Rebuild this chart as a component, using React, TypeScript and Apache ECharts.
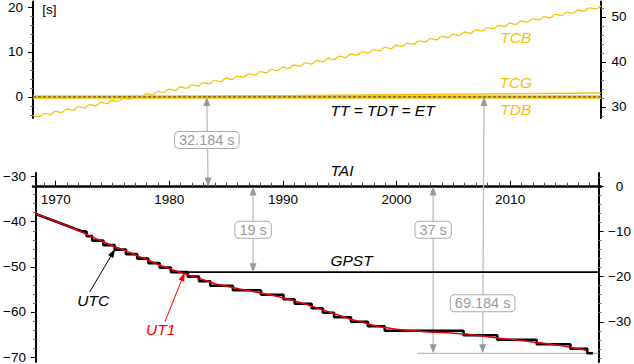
import React, { useEffect, useRef } from "react";
import * as echarts from "echarts";

// ---------------- data ----------------
const YEAR_MIN = 1968;
const YEAR_MAX = 2018;
const TT_MINUS_TAI = 32.184; // s
const GPS_TAI_OFFSET = 19; // s
const LEAP_2017 = 37; // TAI - UTC in 2017

// vertical ranges of the two panels (seconds relative to TT)
const UPPER_MIN = -4.68;
const UPPER_MAX = 21.2;
const LOWER_MIN = -71.09;
const LOWER_MAX = -29.19;

// tick values
const yearTicks = [
  1969, 1970, 1971, 1972, 1973, 1974, 1975, 1976, 1977, 1978, 1979, 1980, 1981, 1982, 1983, 1984,
  1985, 1986, 1987, 1988, 1989, 1990, 1991, 1992, 1993, 1994, 1995, 1996, 1997, 1998, 1999, 2000,
  2001, 2002, 2003, 2004, 2005, 2006, 2007, 2008, 2009, 2010, 2011, 2012, 2013, 2014, 2015, 2016, 2017,
];
const decadeTicks = [1970, 1980, 1990, 2000, 2010];
const upperMinorTicks = [-4, -2, 0, 2, 4, 6, 8, 10, 12, 14, 16, 18, 20];
const upperMajorTicks = [0, 10, 20];
const upperRightMinorTicks = [28, 30, 32, 34, 36, 38, 40, 42, 44, 46, 48, 50, 52];
const upperRightMajorTicks = [30, 40, 50];
const lowerMinorTicks = [-70, -68, -66, -64, -62, -60, -58, -56, -54, -52, -50, -48, -46, -44, -42, -40, -38, -36, -34, -32, -30];
const lowerMajorTicks = [-70, -60, -50, -40, -30];
const lowerRightMinorTicks = [-38, -36, -34, -32, -30, -28, -26, -24, -22, -20, -18, -16, -14, -12, -10, -8, -6, -4, -2, 0, 2];
const lowerRightMajorTicks = [-30, -20, -10, 0];

// TCB - TT, sampled every half year from 1968.0
const tcbStart = 1968;
const tcbStep = 0.5;
const tcbValues = [
  -4.15, -4.41, -3.66, -3.92, -3.18, -3.43, -2.69, -2.94, -2.2, -2.45, -1.71, -1.96, -1.22, -1.47, -0.73, -0.98,
  -0.24, -0.49, 0.25, 0.0, 0.74, 0.48, 1.23, 0.97, 1.72, 1.46, 2.21, 1.95, 2.7, 2.44, 3.19, 2.93,
  3.68, 3.42, 4.16, 3.91, 4.65, 4.4, 5.14, 4.89, 5.63, 5.38, 6.12, 5.87, 6.61, 6.36, 7.1, 6.85,
  7.59, 7.33, 8.08, 7.82, 8.57, 8.31, 9.06, 8.8, 9.55, 9.29, 10.04, 9.78, 10.53, 10.27, 11.01, 10.76,
  11.5, 11.25, 11.99, 11.74, 12.48, 12.23, 12.97, 12.72, 13.46, 13.21, 13.95, 13.7, 14.44, 14.18, 14.93, 14.67,
  15.42, 15.16, 15.91, 15.65, 16.4, 16.14, 16.89, 16.63, 17.38, 17.12, 17.86, 17.61, 18.35, 18.1, 18.84, 18.59,
  19.33, 19.08, 19.82, 19.57, 20.31,
];
// TCG - TT
const tcgYears = [1968, 2018];
const tcgValues = [-0.2, 0.9];
// TDB - TT and TT itself
const flatYears = [1968, 2018];
const flatValues = [0, 0];

// UTC: TAI - UTC before 1972 (drifting), then leap seconds
const driftYears = [1968.0, 1972.0];
const driftTaiMinusUtc = [6.1, 9.89];
const leapYears = [
  1972.0, 1972.5, 1973.0, 1974.0, 1975.0, 1976.0, 1977.0, 1978.0, 1979.0, 1980.0, 1981.5, 1982.5, 1983.5, 1985.5,
  1988.0, 1990.0, 1991.0, 1992.5, 1993.5, 1994.5, 1996.0, 1997.5, 1999.0, 2006.0, 2009.0, 2012.5, 2015.5, 2017.0,
];
const taiMinusUtc = [10, 11, 12, 13, 14, 15, 16, 17, 18, 19, 20, 21, 22, 23, 24, 25, 26, 27, 28, 29, 30, 31, 32, 33, 34, 35, 36, 37];
const UTC_END = 2017.5;

// UT1: Delta T = TT - UT1, yearly
const ut1Years = [
  1968, 1969, 1970, 1971, 1972, 1973, 1974, 1975, 1976, 1977, 1978, 1979, 1980, 1981, 1982, 1983, 1984, 1985,
  1986, 1987, 1988, 1989, 1990, 1991, 1992, 1993, 1994, 1995, 1996, 1997, 1998, 1999, 2000, 2001, 2002, 2003,
  2004, 2005, 2006, 2007, 2008, 2009, 2010, 2011, 2012, 2013, 2014, 2015, 2016, 2017,
];
const deltaT = [
  38.29, 39.2, 40.18, 41.17, 42.23, 43.37, 44.49, 45.48, 46.46, 47.52, 48.53, 49.59, 50.54, 51.38, 52.17, 52.96,
  53.79, 54.34, 54.87, 55.32, 55.82, 56.3, 56.86, 57.57, 58.31, 59.12, 59.98, 60.78, 61.63, 62.29, 62.97, 63.47,
  63.83, 64.09, 64.3, 64.47, 64.57, 64.69, 64.85, 65.15, 65.46, 65.78, 66.07, 66.32, 66.6, 66.91, 67.28, 67.64,
  68.1, 68.55,
];

const GPST_START = 1980.0;
const REF_LINE_START = 2001.9;

// offsets with their arrow year, and where their boxed label sits (panel, value)
const TAI_LEVEL = -TT_MINUS_TAI;
const GPST_LEVEL = TAI_LEVEL - GPS_TAI_OFFSET;
const UTC2017_LEVEL = TAI_LEVEL - LEAP_2017;
const offsetArrows = [
  { label: "32.184 s", year: 1983.3, from: ["upper", 0], to: ["lower", TAI_LEVEL], at: ["upper", -9.56] },
  { label: "19 s", year: 1987.3, from: ["lower", TAI_LEVEL], to: ["lower", GPST_LEVEL], at: ["lower", -41.8] },
  { label: "37 s", year: 2003.3, from: ["lower", TAI_LEVEL], to: ["lower", UTC2017_LEVEL], at: ["lower", -41.8] },
  { label: "69.184 s", year: 2007.7, from: ["upper", 0], to: ["lower", UTC2017_LEVEL], at: ["lower", -58.1] },
];

const YELLOW = "#f4c20a";
const RED = "#ff0000";

const textLabels = [
  { text: "[s]", panel: "upper", x: 1969.45, y: 19.45, color: "#000", italic: false, size: 13.5 },
  { text: "TCB", panel: "upper", x: 2010.5, y: 13.3, color: YELLOW, italic: true, size: 15.5 },
  { text: "TCG", panel: "upper", x: 2010.5, y: 3.3, color: YELLOW, italic: true, size: 15.5 },
  { text: "TDB", panel: "upper", x: 2010.5, y: -2.8, color: YELLOW, italic: true, size: 15.5 },
  { text: "TT = TDT = ET", panel: "upper", x: 1998.77, y: -3.0, color: "#000", italic: true, size: 15.5 },
  { text: "TAI", panel: "lower", x: 1995.2, y: -28.53, color: "#000", italic: true, size: 15.5 },
  { text: "GPST", panel: "lower", x: 1996.05, y: -48.64, color: "#000", italic: true, size: 15.5 },
  { text: "UTC", panel: "lower", x: 1973.1, y: -57.37, color: "#000", italic: true, size: 15.5 },
  { text: "UT1", panel: "lower", x: 1979.09, y: -63.94, color: RED, italic: true, size: 15.5 },
];

const pointerArrows = [
  { color: "#000", tail: [1972.78, -55.57], tip: [1975.05, -46.0] },
  { color: RED, tail: [1979.47, -62.15], tip: [1981.23, -51.2] },
];

// ---------------- chart ----------------
const FONT = '"Liberation Sans", Arial, Helvetica, sans-serif';
const fmt = (v: number) => String(v).replace("-", "\u2212");

const LOWER_TOP = 173;
const LOWER_HEIGHT = 191;
// the TAI time axis sits at TAI level inside the lower panel
const TAI_AXIS_HEIGHT = (LOWER_HEIGHT * (LOWER_MAX - TAI_LEVEL)) / (LOWER_MAX - LOWER_MIN);

function minorAxis(gridIndex: number, position: string, min: number, max: number, ticks: number[]) {
  return {
    type: "value",
    gridIndex,
    position,
    min,
    max,
    axisLine: { show: true, onZero: false, lineStyle: { color: "#000", width: 2 } },
    axisTick: { show: true, customValues: ticks, length: 3, lineStyle: { color: "#777", width: 1 } },
    axisLabel: { show: false },
    splitLine: { show: false },
  };
}
function majorAxis(
  gridIndex: number,
  position: string,
  min: number,
  max: number,
  ticks: number[],
  align: string,
  margin: number
) {
  return {
    type: "value",
    gridIndex,
    position,
    min,
    max,
    axisLine: { show: false, onZero: false },
    axisTick: { show: true, customValues: ticks, length: 5, lineStyle: { color: "#000", width: 1 } },
    axisLabel: {
      show: true,
      customValues: ticks,
      formatter: fmt,
      color: "#000",
      fontSize: 13.5,
      fontFamily: FONT,
      align,
      margin,
    },
    splitLine: { show: false },
  };
}

export default function App() {
  const ref = useRef<HTMLDivElement>(null);
  useEffect(() => {
    if (!ref.current) return;
    const chart = echarts.init(ref.current, undefined, { renderer: "svg" });

    const tcbData = tcbValues.map((v, i) => [tcbStart + i * tcbStep, v]);
    const tcgData = tcgYears.map((x, i) => [x, tcgValues[i]]);
    const flatData = flatYears.map((x, i) => [x, flatValues[i]]);

    const utcData: number[][] = driftYears.map((x, i) => [x, -driftTaiMinusUtc[i] - TT_MINUS_TAI]);
    leapYears.forEach((x, i) => {
      const v = -taiMinusUtc[i] - TT_MINUS_TAI;
      const end = i + 1 < leapYears.length ? leapYears[i + 1] : UTC_END;
      utcData.push([x, v], [end, v]);
    });
    const ut1Data = ut1Years.map((x, i) => [x, -deltaT[i]]);

    const option: any = {
      animation: false,
      backgroundColor: "#fff",
      textStyle: { fontFamily: FONT },
      grid: [
        { left: 33, right: 33, top: 0, height: 118 },
        { left: 33, right: 33, top: LOWER_TOP, height: LOWER_HEIGHT },
        { left: 33, right: 33, top: LOWER_TOP, height: TAI_AXIS_HEIGHT },
      ],
      xAxis: [
        { type: "value", gridIndex: 0, min: YEAR_MIN, max: YEAR_MAX, show: false },
        { type: "value", gridIndex: 1, min: YEAR_MIN, max: YEAR_MAX, show: false },
        {
          type: "value",
          gridIndex: 2,
          position: "bottom",
          min: YEAR_MIN,
          max: YEAR_MAX,
          axisLine: { show: true, onZero: false, lineStyle: { color: "#000", width: 2.5 } },
          axisTick: { show: true, inside: true, customValues: yearTicks, length: 4, lineStyle: { color: "#444" } },
          axisLabel: { show: false },
          splitLine: { show: false },
        },
        {
          type: "value",
          gridIndex: 2,
          position: "bottom",
          min: YEAR_MIN,
          max: YEAR_MAX,
          axisLine: { show: false, onZero: false },
          axisTick: { show: true, inside: true, customValues: decadeTicks, length: 6, lineStyle: { color: "#000" } },
          axisLabel: {
            show: true,
            customValues: decadeTicks,
            formatter: (v: number) => String(v),
            color: "#000",
            fontSize: 13.5,
            fontFamily: FONT,
            margin: 6,
          },
          splitLine: { show: false },
        },
      ],
      yAxis: [
        minorAxis(0, "left", UPPER_MIN, UPPER_MAX, upperMinorTicks),
        minorAxis(0, "right", UPPER_MIN + TT_MINUS_TAI, UPPER_MAX + TT_MINUS_TAI, upperRightMinorTicks),
        minorAxis(1, "left", LOWER_MIN, LOWER_MAX, lowerMinorTicks),
        minorAxis(1, "right", LOWER_MIN + TT_MINUS_TAI, LOWER_MAX + TT_MINUS_TAI, lowerRightMinorTicks),
        majorAxis(0, "left", UPPER_MIN, UPPER_MAX, upperMajorTicks, "right", 10),
        majorAxis(0, "right", UPPER_MIN + TT_MINUS_TAI, UPPER_MAX + TT_MINUS_TAI, upperRightMajorTicks, "center", 18),
        majorAxis(1, "left", LOWER_MIN, LOWER_MAX, lowerMajorTicks, "right", 10),
        majorAxis(1, "right", LOWER_MIN + TT_MINUS_TAI, LOWER_MAX + TT_MINUS_TAI, lowerRightMajorTicks, "center", 21),
        { type: "value", gridIndex: 2, min: LOWER_MAX, max: TAI_LEVEL, show: false },
      ],
      series: [
        {
          name: "TCB",
          type: "line",
          xAxisIndex: 0,
          yAxisIndex: 0,
          data: tcbData,
          smooth: 0.5,
          showSymbol: false,
          lineStyle: { color: YELLOW, width: 1.3 },
          z: 3,
        },
        {
          name: "TCG",
          type: "line",
          xAxisIndex: 0,
          yAxisIndex: 0,
          data: tcgData,
          showSymbol: false,
          lineStyle: { color: YELLOW, width: 1.5 },
          z: 3,
        },
        {
          name: "TDB",
          type: "line",
          xAxisIndex: 0,
          yAxisIndex: 0,
          data: flatData,
          showSymbol: false,
          lineStyle: { color: YELLOW, width: 3.5 },
          z: 4,
        },
        {
          name: "TT",
          type: "line",
          xAxisIndex: 0,
          yAxisIndex: 0,
          data: flatData,
          showSymbol: false,
          lineStyle: { color: "#555", width: 1.3, type: [3, 2] },
          z: 5,
        },
        {
          name: "GPST",
          type: "line",
          xAxisIndex: 1,
          yAxisIndex: 2,
          data: [
            [GPST_START, GPST_LEVEL],
            [YEAR_MAX, GPST_LEVEL],
          ],
          showSymbol: false,
          lineStyle: { color: "#000", width: 1.8 },
          z: 3,
        },
        {
          name: "UTC",
          type: "line",
          xAxisIndex: 1,
          yAxisIndex: 2,
          data: utcData,
          showSymbol: false,
          lineStyle: { color: "#000", width: 2.6, cap: "butt" },
          z: 3,
        },
        {
          name: "UT1",
          type: "line",
          xAxisIndex: 1,
          yAxisIndex: 2,
          data: ut1Data,
          smooth: 0.3,
          showSymbol: false,
          lineStyle: { color: "#e8000a", width: 1.5 },
          z: 4,
        },
        {
          name: "ref",
          type: "line",
          xAxisIndex: 1,
          yAxisIndex: 2,
          data: [
            [REF_LINE_START, UTC2017_LEVEL],
            [YEAR_MAX, UTC2017_LEVEL],
          ],
          showSymbol: false,
          lineStyle: { color: "#aaa", width: 1 },
          z: 2,
        },
      ],
    };
    chart.setOption(option);

    const toPx = (panel: string, x: number, y: number): number[] =>
      chart.convertToPixel({ seriesIndex: panel === "upper" ? 0 : 4 }, [x, y]) as number[];

    const head = (tip: number[], dx: number, dy: number, len: number, wid: number) => {
      const n = Math.hypot(dx, dy) || 1;
      const ux = dx / n;
      const uy = dy / n;
      const bx = tip[0] - ux * len;
      const by = tip[1] - uy * len;
      return [
        [tip[0], tip[1]],
        [bx - uy * wid * 0.5, by + ux * wid * 0.5],
        [bx + uy * wid * 0.5, by - ux * wid * 0.5],
      ];
    };

    const graphics: any[] = [];
    offsetArrows.forEach((a) => {
      const p1 = toPx(a.from[0] as string, a.year, a.from[1] as number);
      const p2 = toPx(a.to[0] as string, a.year, a.to[1] as number);
      const pl = toPx(a.at[0] as string, a.year, a.at[1] as number);
      graphics.push({
        type: "line",
        z: 1,
        shape: { x1: p1[0], y1: p1[1] + 4, x2: p2[0], y2: p2[1] - 4 },
        style: { stroke: "#bdbdbd", lineWidth: 1.3 },
      });
      graphics.push({
        type: "polygon",
        z: 6,
        shape: { points: head(p1, 0, -1, 9, 7) },
        style: { fill: "#999" },
      });
      graphics.push({
        type: "polygon",
        z: 6,
        shape: { points: head(p2, 0, 1, 9, 7) },
        style: { fill: "#999" },
      });
      graphics.push({
        type: "text",
        z: 10,
        x: pl[0],
        y: pl[1],
        style: {
          text: a.label,
          align: "center",
          verticalAlign: "middle",
          fill: "#9a9a9a",
          font: `14.5px ${FONT}`,
          backgroundColor: "#fff",
          borderColor: "#aaa",
          borderWidth: 1,
          borderRadius: 4,
          padding: [1, 4, 0, 4],
        },
      });
    });

    pointerArrows.forEach((a) => {
      const t = toPx("lower", a.tail[0], a.tail[1]);
      const p = toPx("lower", a.tip[0], a.tip[1]);
      const dx = p[0] - t[0];
      const dy = p[1] - t[1];
      const n = Math.hypot(dx, dy);
      graphics.push({
        type: "line",
        z: 6,
        shape: { x1: t[0], y1: t[1], x2: p[0] - (dx / n) * 7, y2: p[1] - (dy / n) * 7 },
        style: { stroke: a.color, lineWidth: 1 },
      });
      graphics.push({
        type: "polygon",
        z: 6,
        shape: { points: head(p, dx, dy, 9, 6) },
        style: { fill: a.color },
      });
    });

    textLabels.forEach((l) => {
      const p = toPx(l.panel, l.x, l.y);
      graphics.push({
        type: "text",
        z: 10,
        x: p[0],
        y: p[1],
        style: {
          text: l.text,
          align: "center",
          verticalAlign: "middle",
          fill: l.color,
          font: `${l.italic ? "italic " : ""}${l.size}px ${FONT}`,
        },
      });
    });

    chart.setOption({ graphic: graphics });

    return () => chart.dispose();
  }, []);

  return (
    <div
      ref={ref}
      style={{ position: "fixed", left: 0, top: 0, width: 634, height: 364, background: "#fff" }}
    />
  );
}
